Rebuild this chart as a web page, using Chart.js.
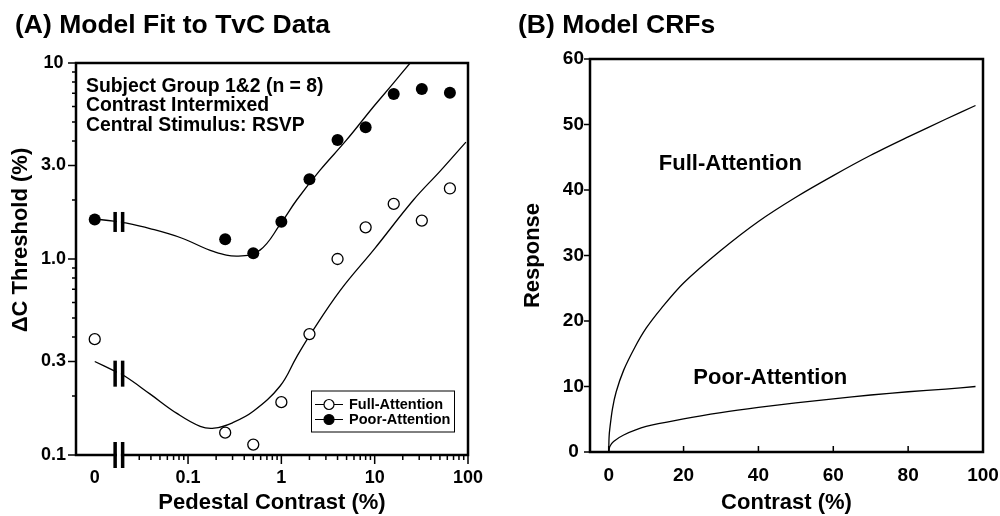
<!DOCTYPE html>
<html>
<head>
<meta charset="utf-8">
<script src="https://cdn.jsdelivr.net/npm/chart.js@4.4.0/dist/chart.umd.min.js"></script>
<style>
  body { margin: 0; background: #fff; }
  #wrap { position: relative; width: 1000px; height: 516px; }
  canvas { position: absolute; top: 0; }
  #tvc { left: 0; }
  #crf { left: 500px; }
</style>
</head>
<body>
<div id="wrap">
  <canvas id="tvc" width="500" height="516"></canvas>
  <canvas id="crf" width="500" height="516"></canvas>
</div>
<script>
// ---- Panel A: TvC data (pedestal "0" is plotted at 0.01) ----
const pedestals  = [0.01, 0.25, 0.5, 1, 2, 4, 8, 16, 32, 64];
const fullThresh = [0.39, 0.13, 0.113, 0.186, 0.414, 1.0, 1.45, 1.91, 1.57, 2.29];
const poorThresh = [1.59, 1.26, 1.07, 1.55, 2.55, 4.05, 4.7, 6.95, 7.37, 7.05];

// model fits
const fullFitX = [0.01, 0.0158, 0.0211, 0.039, 0.076, 0.135, 0.19, 0.3, 0.5, 0.97, 1.45, 2.03, 4.26, 10, 26, 50, 95];
const fullFitY = [0.30, 0.27, 0.252, 0.205, 0.163, 0.14, 0.137, 0.146, 0.167, 0.225, 0.315, 0.41, 0.69, 1.13, 2.0, 2.8, 3.95];
const poorFitX = [0.01, 0.016, 0.021, 0.039, 0.085, 0.19, 0.346, 0.59, 0.97, 1.46, 2.6, 5.0, 9.7, 15.8, 24];
const poorFitY = [1.60, 1.56, 1.53, 1.43, 1.28, 1.09, 1.035, 1.11, 1.5, 2.0, 2.84, 4.05, 5.98, 7.87, 10];

const tvcXTicks  = [0.01, 0.1, 1, 10, 100];
const tvcXLabels = ['0', '0.1', '1', '10', '100'];
const tvcXMinor  = [0.03, 0.04, 0.05, 0.06, 0.07, 0.08, 0.09,
                    0.2, 0.3, 0.4, 0.5, 0.6, 0.7, 0.8, 0.9,
                    2, 3, 4, 5, 6, 7, 8, 9, 20, 30, 40, 50, 60, 70, 80, 90];
const tvcYTicks  = [0.1, 0.3, 1, 3, 10];
const tvcYLabels = ['0.1', '0.3', '1.0', '3.0', '10'];
const tvcYMinor  = [0.2, 0.4, 0.5, 0.6, 0.7, 0.8, 0.9, 2, 4, 5, 6, 7, 8, 9];

// axis breaks between "0" and the log range
const breakX = 0.01815;
const breakY = [0.1, 0.26, 1.545];   // x axis, full fit, poor fit
const breakH = [26, 26, 20];

const noteLines = ['Subject Group 1&2 (n = 8)', 'Contrast Intermixed', 'Central Stimulus: RSVP'];

// ---- Panel B: model contrast response functions ----
const crfFullX = [0, 0.1, 0.3, 1, 2, 4, 7, 10, 14, 20, 30, 40, 50, 60, 70, 80, 90, 98];
const crfFullY = [0, 2.3, 3.6, 6.6, 9.2, 12.5, 16, 18.9, 21.9, 25.8, 30.8, 35.2, 38.9, 42.2, 45.3, 48.1, 50.8, 52.9];
const crfPoorX = [0, 0.3, 1.3, 4, 10, 20, 30, 40, 50, 60, 70, 80, 90, 98];
const crfPoorY = [0, 0.85, 1.6, 2.6, 3.9, 5.05, 6.0, 6.8, 7.5, 8.1, 8.7, 9.2, 9.6, 10.0];
const crfXTicks = [0, 20, 40, 60, 80, 100];
const crfYTicks = [0, 10, 20, 30, 40, 50, 60];
const crfLabels = [
  { text: 'Full-Attention', x: 13.4, y: 44 },
  { text: 'Poor-Attention', x: 22.6, y: 11.3 },
];

const FONT = "'Liberation Sans', Arial, Helvetica, sans-serif";
Chart.defaults.font.family = FONT;
Chart.defaults.font.weight = 'bold';
Chart.defaults.color = '#000';
Chart.defaults.animation = false;

const pts = (xs, ys) => xs.map((x, i) => ({ x, y: ys[i] }));

// pin axis box sizes so both plot areas land where they are in the figure
function fixSize(size) {
  return s => {
    if (s.isHorizontal()) s.height = size; else s.width = size;
    s.paddingLeft = s.paddingRight = s.paddingTop = s.paddingBottom = 0;
  };
}

function drawBreak(ctx, px, py, h) {
  ctx.fillStyle = '#fff';
  ctx.fillRect(px - 2, py - h / 2, 4, h);
  ctx.fillStyle = '#000';
  ctx.fillRect(px - 5.5, py - h / 2, 3.5, h);
  ctx.fillRect(px + 2, py - h / 2, 3.5, h);
}

function fitLine(data, smooth) {
  return {
    data, showLine: true, pointRadius: 0, borderColor: '#000', backgroundColor: '#000',
    borderWidth: 1.3, tension: smooth,
  };
}

// Frame, tick marks, breaks, legend and text for panel A
const tvcDecor = {
  id: 'tvcDecor',
  afterDatasetsDraw(chart) {
    const { ctx, chartArea: a, scales: { x, y } } = chart;
    ctx.save();
    ctx.strokeStyle = '#000';
    ctx.lineWidth = 2.5;
    ctx.strokeRect(a.left, a.top, a.right - a.left, a.bottom - a.top);

    ctx.lineWidth = 1.5;
    ctx.beginPath();
    tvcXTicks.slice(1).forEach(v => {
      const px = x.getPixelForValue(v);
      ctx.moveTo(px, a.bottom); ctx.lineTo(px, a.bottom + 9);
    });
    tvcXMinor.forEach(v => {
      const px = x.getPixelForValue(v);
      ctx.moveTo(px, a.bottom); ctx.lineTo(px, a.bottom + 5);
    });
    tvcYTicks.forEach(v => {
      const py = y.getPixelForValue(v);
      ctx.moveTo(a.left, py); ctx.lineTo(a.left - 8, py);
    });
    tvcYMinor.forEach(v => {
      const py = y.getPixelForValue(v);
      ctx.moveTo(a.left, py); ctx.lineTo(a.left - 4, py);
    });
    ctx.stroke();

    const bx = x.getPixelForValue(breakX);
    breakY.forEach((v, i) => drawBreak(ctx, bx, y.getPixelForValue(v), breakH[i]));

    // legend box
    ctx.lineWidth = 1;
    ctx.strokeRect(311.5, 391, 143, 41);
    const rows = [chart.data.datasets[0], chart.data.datasets[1]];
    ctx.font = 'bold 14.5px ' + FONT;
    ctx.textBaseline = 'middle';
    rows.forEach((ds, i) => {
      const ly = 404.5 + i * 15;
      ctx.beginPath();
      ctx.moveTo(315, ly); ctx.lineTo(343, ly);
      ctx.lineWidth = 1; ctx.strokeStyle = '#000'; ctx.stroke();
      ctx.beginPath();
      ctx.arc(329, ly, 5, 0, Math.PI * 2);
      ctx.fillStyle = ds.backgroundColor; ctx.fill();
      ctx.lineWidth = 1.2; ctx.stroke();
      ctx.fillStyle = '#000';
      ctx.fillText(ds.label, 349, ly + 0.5);
    });

    // condition notes
    ctx.font = 'bold 19.4px ' + FONT;
    ctx.textBaseline = 'alphabetic';
    noteLines.forEach((t, i) => ctx.fillText(t, 86, 91.5 + i * 19.5));

    // panel title and y title
    ctx.font = 'bold 26.5px ' + FONT;
    ctx.fillText('(A) Model Fit to TvC Data', 15, 33);
    ctx.translate(20.5, 240);
    ctx.rotate(-Math.PI / 2);
    ctx.font = 'bold 22px ' + FONT;
    ctx.textAlign = 'center';
    ctx.textBaseline = 'middle';
    ctx.fillText('\u0394C Threshold (%)', 0, 0);
    ctx.restore();
  }
};

new Chart(document.getElementById('tvc'), {
  type: 'scatter',
  data: {
    datasets: [
      { label: 'Full-Attention', data: pts(pedestals, fullThresh), pointRadius: 5.5,
        backgroundColor: '#fff', borderColor: '#000', borderWidth: 1.3 },
      { label: 'Poor-Attention', data: pts(pedestals, poorThresh), pointRadius: 6,
        backgroundColor: '#000', borderColor: '#000', borderWidth: 0 },
      fitLine(pts(fullFitX, fullFitY), 0.4),
      fitLine(pts(poorFitX, poorFitY), 0.4),
    ],
  },
  options: {
    responsive: false,
    events: [],
    layout: { padding: { left: 0, right: 32, top: 63, bottom: 0 } },
    plugins: { legend: { display: false }, tooltip: { enabled: false } },
    scales: {
      x: {
        type: 'logarithmic', min: 0.0063, max: 100,
        grid: { display: false, drawTicks: false }, border: { display: false },
        afterBuildTicks: s => { s.ticks = tvcXTicks.map(v => ({ value: v })); },
        afterFit: fixSize(61),
        ticks: { autoSkip: false, maxRotation: 0, padding: 12, font: { size: 18, weight: 'bold' },
                 callback: (v, i) => tvcXLabels[i] },
        title: { display: true, text: 'Pedestal Contrast (%)', padding: 0, font: { size: 22, weight: 'bold' } },
      },
      y: {
        type: 'logarithmic', min: 0.1, max: 10,
        grid: { display: false, drawTicks: false }, border: { display: false },
        afterBuildTicks: s => { s.ticks = tvcYTicks.map(v => ({ value: v })); },
        afterFit: fixSize(76),
        ticks: { autoSkip: false, padding: 10, crossAlign: 'center', font: { size: 18, weight: 'bold' },
                 callback: (v, i) => tvcYLabels[i] },
      },
    },
  },
  plugins: [tvcDecor],
});

// Frame, tick marks and labels for panel B
const crfDecor = {
  id: 'crfDecor',
  afterDatasetsDraw(chart) {
    const { ctx, chartArea: a, scales: { x, y } } = chart;
    ctx.save();
    ctx.strokeStyle = '#000';
    ctx.lineWidth = 2.5;
    ctx.strokeRect(a.left, a.top, a.right - a.left, a.bottom - a.top);
    ctx.lineWidth = 1.5;
    ctx.beginPath();
    crfXTicks.slice(0, -1).forEach(v => {
      const px = x.getPixelForValue(v);
      ctx.moveTo(px, a.bottom); ctx.lineTo(px, a.bottom - 6);
    });
    crfYTicks.forEach(v => {
      const py = y.getPixelForValue(v);
      ctx.moveTo(a.left, py); ctx.lineTo(a.left - 6, py);
    });
    ctx.stroke();

    ctx.fillStyle = '#000';
    ctx.font = 'bold 22px ' + FONT;
    ctx.textBaseline = 'middle';
    crfLabels.forEach(l => ctx.fillText(l.text, x.getPixelForValue(l.x), y.getPixelForValue(l.y)));

    ctx.font = 'bold 26.5px ' + FONT;
    ctx.textBaseline = 'alphabetic';
    ctx.fillText('(B) Model CRFs', 18, 33);
    ctx.restore();
  }
};

new Chart(document.getElementById('crf'), {
  type: 'scatter',
  data: {
    datasets: [
      fitLine(pts(crfFullX, crfFullY), 0.3),
      fitLine(pts(crfPoorX, crfPoorY), 0.3),
    ],
  },
  options: {
    responsive: false,
    events: [],
    layout: { padding: { left: 0, right: 17, top: 59, bottom: 0 } },
    plugins: { legend: { display: false }, tooltip: { enabled: false } },
    scales: {
      x: {
        type: 'linear', min: -5, max: 100,
        grid: { display: false, drawTicks: false }, border: { display: false },
        afterBuildTicks: s => { s.ticks = crfXTicks.map(v => ({ value: v })); },
        afterFit: fixSize(64),
        ticks: { autoSkip: false, maxRotation: 0, padding: 12, font: { size: 19, weight: 'bold' } },
        title: { display: true, text: 'Contrast (%)', padding: 0, font: { size: 22, weight: 'bold' } },
      },
      y: {
        type: 'linear', min: 0, max: 60,
        grid: { display: false, drawTicks: false }, border: { display: false },
        afterBuildTicks: s => { s.ticks = crfYTicks.map(v => ({ value: v })); },
        afterFit: fixSize(90),
        ticks: { autoSkip: false, padding: 6, crossAlign: 'center', font: { size: 19, weight: 'bold' } },
        title: { display: true, text: 'Response', padding: { top: 20, bottom: 0 }, font: { size: 22, weight: 'bold' } },
      },
    },
  },
  plugins: [crfDecor],
});
</script>
</body>
</html>
